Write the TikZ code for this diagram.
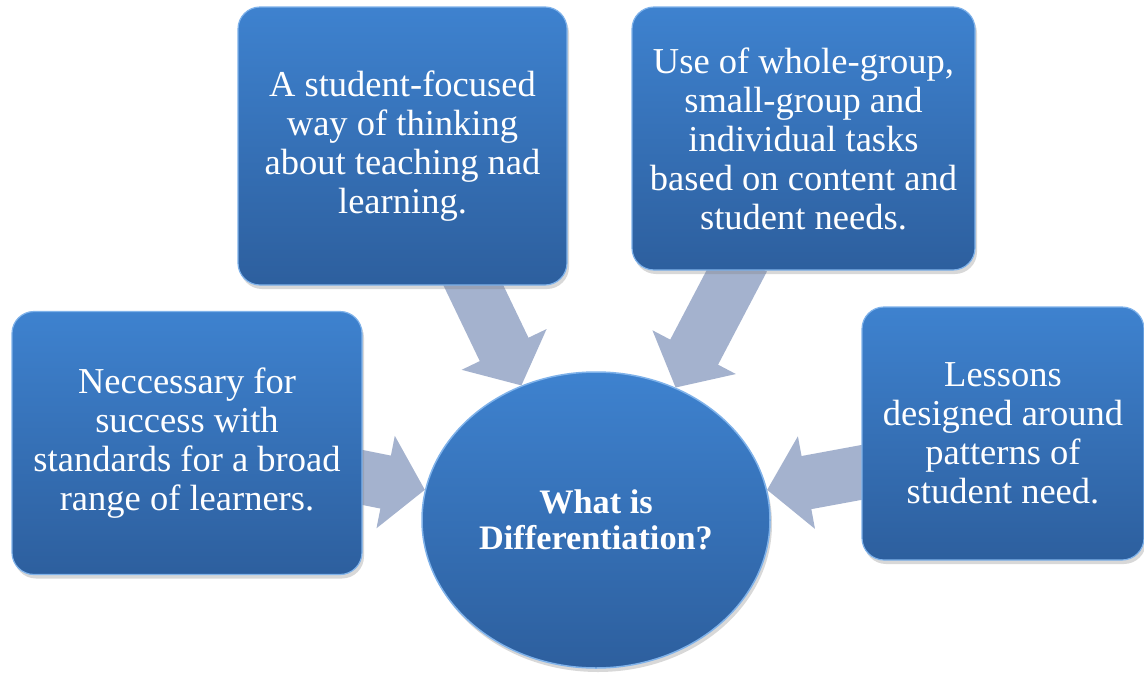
\documentclass[tikz,border=0pt]{standalone}
\usepackage{fontspec}
\setmainfont{Liberation Serif}
\usetikzlibrary{shapes.geometric,arrows.meta,shadows}
\definecolor{btop}{HTML}{3E82CF}
\definecolor{bbot}{HTML}{2D5F9E}
\definecolor{brim}{HTML}{7FB2EA}
\definecolor{arr}{HTML}{A4B2CE}
\pgfdeclarelayer{bg}
\pgfdeclarelayer{fg}
\pgfsetlayers{bg,main,fg}
\tikzset{
  infobox/.style={rounded corners=22pt, top color=btop, bottom color=bbot,
    draw=brim, line width=1.2pt, text=white,
    font=\fontsize{36.5}{39}\selectfont, align=center, inner sep=0pt,
    drop shadow={opacity=0.3,shadow xshift=2pt,shadow yshift=-4pt}},
  hub/.style={ellipse, top color=btop, bottom color=bbot, draw=brim,
    line width=1.5pt, text=white, inner sep=0pt,
    font=\bfseries\fontsize{34.3}{35.5}\selectfont, align=center,
    minimum width=348pt, minimum height=296pt,
    drop shadow={opacity=0.3,shadow xshift=2pt,shadow yshift=-4pt}},
  blockarrow/.style={line width=54pt, draw=arr, -{Triangle[width=92pt,length=40pt]}}
}
\begin{document}
\begin{tikzpicture}[x=1pt,y=-1pt]
\useasboundingbox (0,0) rectangle (1144,675);
\begin{pgfonlayer}{bg}
  \fill[white] (0,0) rectangle (1144,675);
  \node[hub] (hub) at (596,520) {What is\\Differentiation?};
\end{pgfonlayer}
\begin{pgfonlayer}{fg}
  \node[infobox, minimum width=350pt, minimum height=263pt] (b1) at (187,443)
    {Neccessary for\\success with\\standards for a broad\\range of learners.};
  \node[infobox, minimum width=329pt, minimum height=278pt] (b2) at (402.5,146)
    {A student-focused\\way of thinking\\about teaching nad\\learning.};
  \node[infobox, minimum width=343pt, minimum height=263pt] (b3) at (803.5,138.5)
    {Use of whole-group,\\small-group and\\individual tasks\\based on content and\\student needs.};
  \node[infobox, minimum width=282pt, minimum height=253pt] (b4) at (1003,433.5)
    {Lessons\\designed around\\patterns of\\student need.};
\end{pgfonlayer}
\coordinate (s1) at (466,270);
\coordinate (s2) at (743,259);
\coordinate (s3) at (345,474);
\coordinate (s4) at (880,469);
\draw[blockarrow] (s1) -- (hub.119.6);
\draw[blockarrow] (s2) -- (hub.59.3);
\draw[blockarrow] (s3) -- (hub.170);
\draw[blockarrow] (s4) -- (hub.10.2);
\end{tikzpicture}
\end{document}
